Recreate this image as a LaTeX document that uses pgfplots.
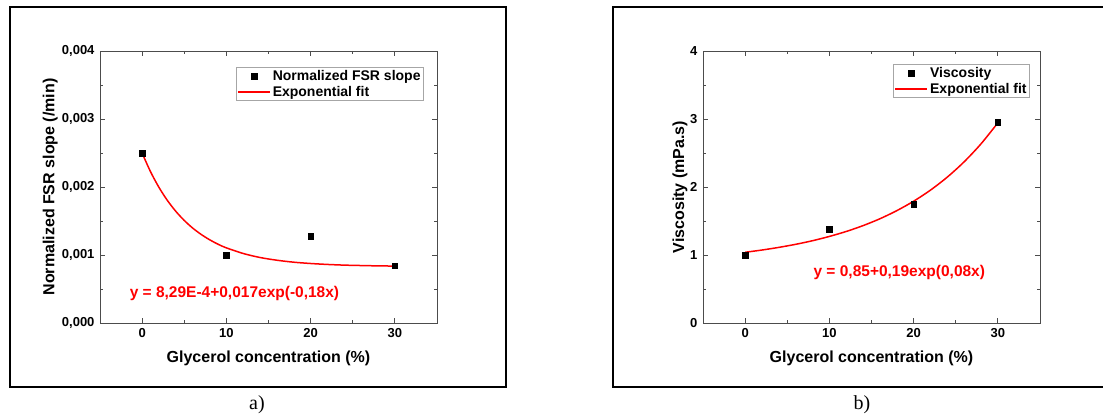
\documentclass[border=0pt]{standalone}
\usepackage{fontspec}
\setmainfont{Liberation Sans}
\newfontfamily\timesfont{Liberation Serif}
\usepackage{pgfplots}
\pgfplotsset{compat=1.18}

\pgfplotsset{
  orig/.style={
    scale only axis, width=337pt, height=272pt,
    xmin=-5, xmax=35, xtick={0,10,20,30}, minor xtick={5,15,25},
    tick align=inside, major tick length=5pt, minor tick length=3pt,
    axis line style={black!70, line width=0.8pt},
    every tick/.style={black!70, line width=0.8pt},
    tick label style={font=\fontsize{13}{15}\selectfont\bfseries},
    label style={font=\fontsize{16}{19}\selectfont\bfseries},
    xlabel={Glycerol concentration (\%)},
    xlabel style={at={(axis description cs:0.5,-0.129)}, anchor=center},
    /pgf/number format/assume math mode=true,
    xticklabel style={yshift=-2pt},
    yticklabel style={xshift=-2pt},
    legend style={draw=black!35, line width=0.6pt,
      font=\fontsize{14}{16}\selectfont\bfseries,
      anchor=north east, inner sep=1pt},
    legend cell align=left,
    legend image code/.code={\draw[mark repeat=2,mark phase=2,#1]
      plot coordinates {(0pt,0pt) (16pt,0pt) (32pt,0pt)};},
  },
  pts/.style={only marks, mark=square*, mark size=2.8pt, black},
  fit/.style={red, line width=1.5pt, smooth, no marks},
}

\begin{document}
\begin{tikzpicture}
\useasboundingbox (0,0) rectangle (1103pt,419pt);
% outer frames
\draw[line width=1.5pt] (10pt,32pt) rectangle (506pt,412pt);
\draw[line width=1.5pt] (613pt,32pt) rectangle (1115pt,412pt);

% a) normalized FSR slope
\begin{axis}[orig, at={(100pt,96pt)}, anchor=south west,
  ymin=0, ymax=0.004,
  ytick={0,0.001,0.002,0.003,0.004},
  minor ytick={0.0005,0.0015,0.0025,0.0035},
  scaled y ticks=false,
  yticklabel style={/pgf/number format/.cd, fixed, fixed zerofill, precision=3, use comma, /tikz/.cd},
  ylabel={Normalized FSR slope (/min)},
  ylabel style={at={(axis description cs:-0.148,0.5)}, anchor=center},
  legend style={at={(0.961,0.941)}}]
\addplot[pts] coordinates {(0,0.0025) (10,0.001) (20,0.00128) (30,0.00084)};
\addlegendentry{Normalized FSR slope}
\addplot[fit] coordinates {
  (0,0.002499) (1,0.002224) (2,0.001994) (3,0.001802) (4,0.001642)
  (5,0.001508) (6,0.001396) (7,0.001303) (8,0.001225) (9,0.001159)
  (10,0.001105) (12,0.001022) (14,0.000963) (16,0.000923) (18,0.000894)
  (20,0.000875) (22,0.000861) (24,0.000851) (26,0.000845) (28,0.000840)
  (30,0.000837)};
\addlegendentry{Exponential fit}
\node[text=red, font=\fontsize{15.5}{18}\selectfont\bfseries] at (axis cs:10.96,0.000437) {y = 8,29E-4+0,017exp(-0,18x)};
\end{axis}

% b) viscosity
\begin{axis}[orig, at={(703pt,96pt)}, anchor=south west,
  ymin=0, ymax=4, ytick={0,1,2,3,4},
  minor ytick={0.5,1.5,2.5,3.5},
  ylabel={Viscosity (mPa.s)},
  ylabel style={at={(axis description cs:-0.068,0.5)}, anchor=center},
  legend style={at={(0.970,0.952)}}]
\addplot[pts] coordinates {(0,1.0) (10,1.375) (20,1.748) (30,2.95)};
\addlegendentry{Viscosity}
\addplot[fit] coordinates {
  (0,1.040) (2,1.073) (4,1.112) (6,1.157) (8,1.210) (10,1.273)
  (12,1.346) (14,1.432) (16,1.533) (18,1.652) (20,1.791) (22,1.954)
  (24,2.146) (26,2.371) (28,2.635) (30,2.944)};
\addlegendentry{Exponential fit}
\node[text=red, font=\fontsize{15.5}{18}\selectfont\bfseries] at (axis cs:18.3,0.75) {y = 0,85+0,19exp(0,08x)};
\end{axis}

\node[font=\timesfont\fontsize{20}{24}\selectfont] at (257pt,14pt) {a)};
\node[font=\timesfont\fontsize{20}{24}\selectfont] at (862pt,14pt) {b)};
\end{tikzpicture}
\end{document}
